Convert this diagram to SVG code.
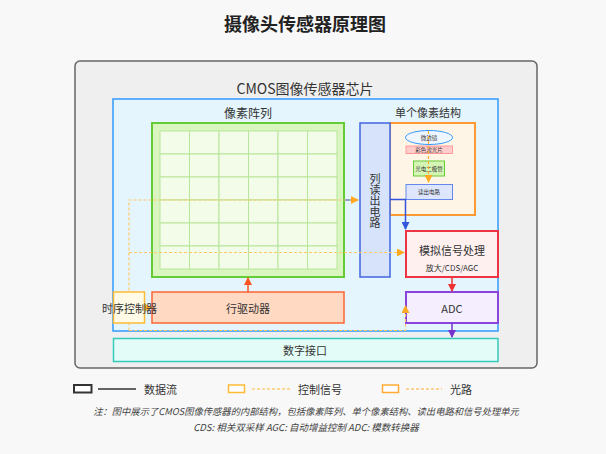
<svg xmlns="http://www.w3.org/2000/svg" width="606" height="454" viewBox="0 0 606 454">
<style>
text{font-family:"Noto Sans CJK SC","Liberation Sans",sans-serif;fill:#333;text-anchor:middle;dominant-baseline:central}
.cell{fill:#f2fce8;stroke:#b8e69a;stroke-width:1}
.ctl{fill:none;stroke:#ffc966;stroke-width:1.2;stroke-dasharray:3 2}
</style>
<defs>
<marker id="aBlue" markerWidth="8" markerHeight="8" refX="7" refY="4" orient="auto" markerUnits="userSpaceOnUse"><path d="M0,0 L8,4 L0,8 Z" fill="#3355dd"/></marker>
<marker id="aRed" markerWidth="8" markerHeight="8" refX="7" refY="4" orient="auto" markerUnits="userSpaceOnUse"><path d="M0,0 L8,4 L0,8 Z" fill="#ee3333"/></marker>
<marker id="aPur" markerWidth="8" markerHeight="8" refX="7" refY="4" orient="auto" markerUnits="userSpaceOnUse"><path d="M0,0 L8,4 L0,8 Z" fill="#7733cc"/></marker>
<marker id="aRow" markerWidth="8" markerHeight="8" refX="7" refY="4" orient="auto" markerUnits="userSpaceOnUse"><path d="M0,0 L8,4 L0,8 Z" fill="#ff5522"/></marker>
<marker id="aOr" markerWidth="8" markerHeight="8" refX="7" refY="4" orient="auto" markerUnits="userSpaceOnUse"><path d="M0,0 L8,4 L0,8 Z" fill="#ffaa22"/></marker>
</defs>
<rect width="606" height="454" fill="#f8f8f8"/>
<text x="305" y="23" style="font-size:18px;font-weight:bold;fill:#222">摄像头传感器原理图</text>

<g id="outer">
<rect x="75" y="61" width="462" height="307" rx="5" fill="#efefef" stroke="#666" stroke-width="1.5"/>
<text x="305" y="88" style="font-size:14px">CMOS图像传感器芯片</text>
</g>
<g id="chip">
<rect x="113" y="99" width="385" height="232" fill="#e5f5fd" stroke="#3399ff" stroke-width="1.5"/>
</g>
<g id="pixel-array">
<text x="248" y="112" style="font-size:12px">像素阵列</text>
<rect x="152" y="123" width="192" height="154" fill="#d9f5c0" stroke="#66cc33" stroke-width="2"/>
<g>
<rect class="cell" x="160" y="131" width="29.5" height="23"/><rect class="cell" x="189.5" y="131" width="29.5" height="23"/><rect class="cell" x="219" y="131" width="29.5" height="23"/><rect class="cell" x="248.5" y="131" width="29.5" height="23"/><rect class="cell" x="278" y="131" width="29.5" height="23"/><rect class="cell" x="307.5" y="131" width="29.5" height="23"/>
<rect class="cell" x="160" y="154" width="29.5" height="23"/><rect class="cell" x="189.5" y="154" width="29.5" height="23"/><rect class="cell" x="219" y="154" width="29.5" height="23"/><rect class="cell" x="248.5" y="154" width="29.5" height="23"/><rect class="cell" x="278" y="154" width="29.5" height="23"/><rect class="cell" x="307.5" y="154" width="29.5" height="23"/>
<rect class="cell" x="160" y="177" width="29.5" height="23"/><rect class="cell" x="189.5" y="177" width="29.5" height="23"/><rect class="cell" x="219" y="177" width="29.5" height="23"/><rect class="cell" x="248.5" y="177" width="29.5" height="23"/><rect class="cell" x="278" y="177" width="29.5" height="23"/><rect class="cell" x="307.5" y="177" width="29.5" height="23"/>
<rect class="cell" x="160" y="200" width="29.5" height="23"/><rect class="cell" x="189.5" y="200" width="29.5" height="23"/><rect class="cell" x="219" y="200" width="29.5" height="23"/><rect class="cell" x="248.5" y="200" width="29.5" height="23"/><rect class="cell" x="278" y="200" width="29.5" height="23"/><rect class="cell" x="307.5" y="200" width="29.5" height="23"/>
<rect class="cell" x="160" y="223" width="29.5" height="23"/><rect class="cell" x="189.5" y="223" width="29.5" height="23"/><rect class="cell" x="219" y="223" width="29.5" height="23"/><rect class="cell" x="248.5" y="223" width="29.5" height="23"/><rect class="cell" x="278" y="223" width="29.5" height="23"/><rect class="cell" x="307.5" y="223" width="29.5" height="23"/>
<rect class="cell" x="160" y="246" width="29.5" height="23"/><rect class="cell" x="189.5" y="246" width="29.5" height="23"/><rect class="cell" x="219" y="246" width="29.5" height="23"/><rect class="cell" x="248.5" y="246" width="29.5" height="23"/><rect class="cell" x="278" y="246" width="29.5" height="23"/><rect class="cell" x="307.5" y="246" width="29.5" height="23"/>
</g>
</g>
<g id="pixel-structure">
<text x="428" y="112" style="font-size:11px">单个像素结构</text>
<rect x="390" y="123" width="85" height="92" fill="#fff5e6" stroke="#ff9933" stroke-width="2"/>
<ellipse cx="429" cy="137.5" rx="23.5" ry="7" fill="#eef6ff" stroke="#3399ff" stroke-width="1"/>
<text x="429" y="137.5" style="font-size:5.5px">微透镜</text>
<rect x="406" y="146" width="46.5" height="7.5" fill="#ffcccc" stroke="#ff8888" stroke-width="0.8"/>
<text x="429" y="150" style="font-size:5.5px">彩色滤光片</text>
<rect x="413.5" y="161" width="31" height="15" fill="#d5f5b5" stroke="#66cc33" stroke-width="1"/>
<text x="429" y="168.5" style="font-size:5.5px">光电二极管</text>
<rect x="406" y="184.5" width="46.5" height="15" fill="#dde6fc" stroke="#6688ee" stroke-width="1"/>
<text x="429" y="192" style="font-size:5.5px">读出电路</text>
<line x1="428.5" y1="131" x2="428.5" y2="182" stroke="#ffaa33" stroke-width="1.2" stroke-dasharray="3 2" marker-end="url(#aOr)"/>
</g>
<g id="column-readout">
<rect x="360" y="123" width="30" height="154" fill="#d6e3fb" stroke="#3f66e0" stroke-width="1.5"/>
<text x="375" y="200.4" style="font-size:11px;writing-mode:vertical-rl;text-orientation:upright">列读出电路</text>
</g>
<g id="analog">
<rect x="406" y="231" width="92" height="46" fill="#fff0f0" stroke="#ee3344" stroke-width="2"/>
<text x="452" y="250" style="font-size:11px">模拟信号处理</text>
<text x="452" y="267" style="font-size:8px">放大/CDS/AGC</text>
</g>
<g id="adc">
<rect x="406" y="292" width="92" height="31" fill="#f5eefe" stroke="#8844dd" stroke-width="2"/>
<text x="452" y="308" style="font-size:11px">ADC</text>
</g>
<g id="digital">
<rect x="113.5" y="338.5" width="384.5" height="23" fill="#e4fcf8" stroke="#33ccbb" stroke-width="1.5"/>
<text x="305" y="350" style="font-size:11px">数字接口</text>
</g>
<g id="row-driver">
<rect x="152" y="292" width="192" height="31" fill="#ffd9c2" stroke="#ff6633" stroke-width="1.5"/>
<text x="248" y="308" style="font-size:11px">行驱动器</text>
</g>

<g id="connectors">
<line x1="344" y1="200" x2="358" y2="200" stroke="#5577dd" stroke-width="1.5"/>
<polyline points="390,199.5 405.5,199.5 405.5,229" fill="none" stroke="#3355dd" stroke-width="1.5" marker-end="url(#aBlue)"/>
<line x1="452" y1="277" x2="452" y2="291" stroke="#ee3333" stroke-width="1.5" marker-end="url(#aRed)"/>
<line x1="452" y1="323" x2="452" y2="337" stroke="#7733cc" stroke-width="1.5" marker-end="url(#aPur)"/>
<line x1="248" y1="292" x2="248" y2="278" stroke="#ff5522" stroke-width="1.5" marker-end="url(#aRow)"/>
<polyline class="ctl" points="129,330.5 129,200 358,200" marker-end="url(#aOr)"/>
<line class="ctl" x1="129" y1="252.5" x2="404" y2="252.5" marker-end="url(#aOr)"/>
<polyline class="ctl" points="129,330.5 405.5,330.5 405.5,306" marker-end="url(#aOr)"/>
<line x1="144" y1="307.5" x2="151" y2="307.5" stroke="#ffaa22" stroke-width="1.2" marker-end="url(#aOr)"/>
</g>

<g id="timing">
<rect x="113.5" y="292" width="31" height="31" fill="#fffbe6" stroke="#ffbb33" stroke-width="1.5"/>
<text x="129.5" y="308" style="font-size:11px">时序控制器</text>
</g>

<g id="legend">
<rect x="74" y="385" width="17.5" height="7.5" fill="#fff" stroke="#333" stroke-width="2"/>
<line x1="98" y1="389" x2="136" y2="389" stroke="#333" stroke-width="1.5"/>
<text x="144" y="389" style="font-size:11px;text-anchor:start">数据流</text>
<rect x="228.5" y="385" width="16" height="7.5" fill="#fff" stroke="#ffbb33" stroke-width="1.5"/>
<line x1="252" y1="389" x2="290" y2="389" stroke="#ffbb33" stroke-width="1" stroke-dasharray="3 2"/>
<text x="298" y="389" style="font-size:11px;text-anchor:start">控制信号</text>
<rect x="382.5" y="385" width="16" height="7.5" fill="#fff" stroke="#ffaa33" stroke-width="1.5"/>
<line x1="406" y1="389" x2="442" y2="389" stroke="#ffaa33" stroke-width="1" stroke-dasharray="3 2"/>
<text x="450" y="389" style="font-size:11px;text-anchor:start">光路</text>
</g>
<text x="306" y="411" style="font-size:9.3px;font-style:italic;fill:#444">注：图中展示了CMOS图像传感器的内部结构，包括像素阵列、单个像素结构、读出电路和信号处理单元</text>
<text x="306" y="427" style="font-size:9.5px;font-style:italic;fill:#444">CDS: 相关双采样 AGC: 自动增益控制 ADC: 模数转换器</text>
</svg>
